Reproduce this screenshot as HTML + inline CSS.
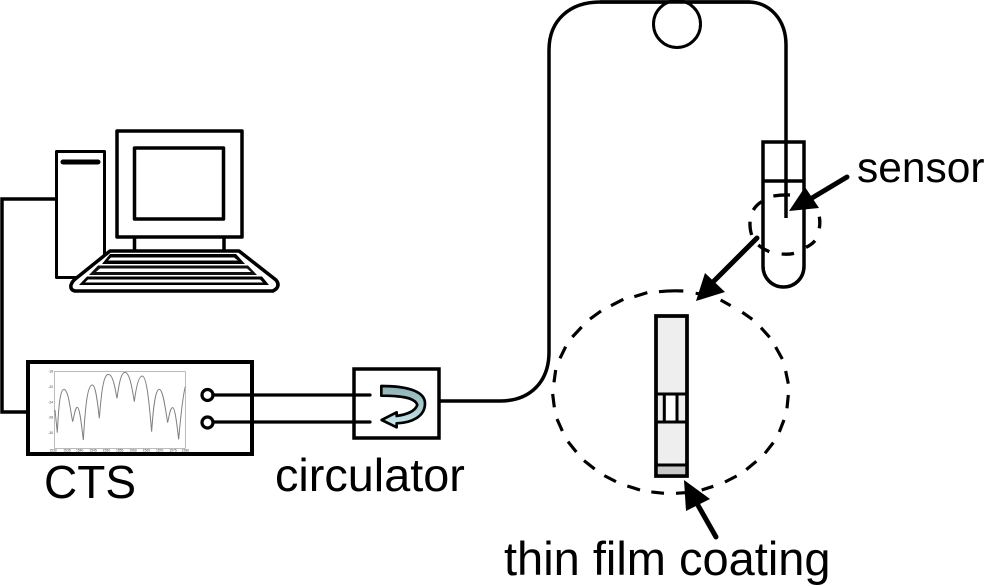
<!DOCTYPE html>
<html>
<head>
<meta charset="utf-8">
<style>
html,body{margin:0;padding:0;background:#fff;width:1000px;height:586px;overflow:hidden}
svg{display:block}
text{font-family:"Liberation Sans",sans-serif;fill:#000}
</style>
</head>
<body>
<svg width="1000" height="586" viewBox="0 0 1000 586" xmlns="http://www.w3.org/2000/svg">
<defs>
<linearGradient id="g" x1="0" y1="0" x2="0" y2="1">
<stop offset="0" stop-color="#8fb1b6"/>
<stop offset="0.55" stop-color="#a9cdd2"/>
<stop offset="1" stop-color="#d2eef3"/>
</linearGradient>
</defs>

<!-- connection PC to CTS -->
<path d="M56 199H2V412H27" fill="none" stroke="#000" stroke-width="3.500"/>

<!-- tower -->
<rect x="56.500" y="151.500" width="48" height="126" fill="#fff" stroke="#000" stroke-width="3" stroke-linejoin="round"/>
<line x1="63" y1="162" x2="98" y2="162" stroke="#000" stroke-width="5" stroke-linecap="round"/>

<!-- monitor -->
<rect x="117" y="131" width="125" height="106" fill="#fff" stroke="#000" stroke-width="3.500" stroke-linejoin="round"/>
<rect x="134.500" y="148" width="89" height="71" fill="#fff" stroke="#000" stroke-width="3.500" stroke-linejoin="round"/>
<path d="M134.500 237V251M224 237V251" stroke="#000" stroke-width="3.500"/>

<!-- keyboard -->
<path d="M110 251H239L276 280Q280 285 276 289L273 291H75Q70 290 71 285Q72 282 74 280Z" fill="#fff" stroke="#000" stroke-width="3.500" stroke-linejoin="round"/>
<path d="M110 254H236L245 264H102Z" fill="#000"/>
<path d="M111 257.500H234L238 260.500H108Z" fill="#fff"/>
<path d="M98 265.500H248L257 275H89Z" fill="#111"/>
<path d="M100 268.500H247L251 272H96Z" fill="#fff"/>
<path d="M87 276.500H262L269 285H79Z" fill="#000"/>
<path d="M88 279.500H260L263 282.500H85Z" fill="#fff"/>

<!-- CTS box -->
<rect x="28" y="362" width="224" height="92" fill="#fff" stroke="#000" stroke-width="4"/>
<g transform="translate(0,350) scale(0.3333)">
<rect x="163" y="65" width="393" height="230" fill="#fff" stroke="#999" stroke-width="2"/>
<path d="M165 180L172 248C176 170 180 118 192 118C206 118 212 190 218 215C224 190 226 172 232 172C240 172 246 240 250 270C256 170 262 105 277 105C288 105 294 170 298 205C304 130 310 73 325 73C340 73 346 120 351 145C356 110 362 67 375 67C390 67 398 125 403 155C408 115 415 78 427 78C442 78 450 190 455 245C460 170 466 118 478 118C490 118 498 190 503 218C508 195 511 173 518 173C526 173 532 235 536 268C542 200 548 140 556 110" fill="none" stroke="#808080" stroke-width="3"/>
<g font-size="10">
<text x="145" y="68" style="fill:#444">-18</text>
<text x="145" y="114" style="fill:#444">-20</text>
<text x="145" y="160" style="fill:#444">-24</text>
<text x="145" y="206" style="fill:#444">-28</text>
<text x="145" y="252" style="fill:#444">-30</text>
<text x="148" y="304" style="fill:#444">1530</text>
<text x="190" y="304" style="fill:#444">1535</text>
<text x="228" y="304" style="fill:#444">1540</text>
<text x="268" y="304" style="fill:#444">1545</text>
<text x="308" y="304" style="fill:#444">1550</text>
<text x="348" y="304" style="fill:#444">1555</text>
<text x="388" y="304" style="fill:#444">1560</text>
<text x="428" y="304" style="fill:#444">1565</text>
<text x="468" y="304" style="fill:#444">1570</text>
<text x="508" y="304" style="fill:#444">1575</text>
<text x="545" y="304" style="fill:#444">1580</text>
</g>
</g>
<circle cx="207.500" cy="395" r="5.500" fill="#fff" stroke="#000" stroke-width="3.200"/>
<circle cx="207.500" cy="422.500" r="5.500" fill="#fff" stroke="#000" stroke-width="3.200"/>
<path d="M213 395H370M213 422H370" stroke="#000" stroke-width="3.200" stroke-linecap="round"/>

<!-- circulator -->
<rect x="354" y="369" width="85" height="69" fill="none" stroke="#000" stroke-width="3.500"/>
<g transform="translate(340,355) scale(0.3333)">
<path d="M124 93L124 122C170 122 225 125 232 150C225 170 200 178 170 183L170 172L125 195L170 217L170 205C215 203 255 185 255 145C255 105 190 93 124 93Z" fill="url(#g)" stroke="#000" stroke-width="8" stroke-linejoin="round"/>
</g>

<!-- fibre -->
<path d="M438 401H500C530 401 549 382 549 352V50C549 20 570 2 600 2H748C770 2 786 20 786 45V218" fill="none" stroke="#000" stroke-width="3.500"/>
<circle cx="677" cy="24" r="23.500" fill="#fff" stroke="#000" stroke-width="3"/>
<line x1="600" y1="2" x2="750" y2="2" stroke="#000" stroke-width="3.500"/>

<!-- sensor tube -->
<path d="M763 142H804V266C804 278 795 287 783.500 287C772 287 763 278 763 266Z" fill="none" stroke="#000" stroke-width="3.500"/>
<line x1="763" y1="181" x2="804" y2="181" stroke="#000" stroke-width="3.500"/>

<!-- small dashed ellipse -->
<g transform="translate(680,130) scale(0.3333)" fill="none" stroke="#000" stroke-width="10">
<path d="M280 198Q305 194 330 195"/>
<path d="M245 215Q228 226 220 240"/>
<path d="M210 275Q209 296 215 315"/>
<path d="M235 345Q250 358 268 365"/>
<path d="M305 372Q325 374 342 370"/>
<path d="M378 352Q395 344 405 332"/>
<path d="M418 295Q421 277 418 260"/>
</g>

<!-- arrows -->
<line x1="847" y1="177" x2="812" y2="198" stroke="#000" stroke-width="5" stroke-linecap="round"/>
<path d="M805 187L789 211L819 208Z" fill="#000"/>
<line x1="757" y1="238" x2="712" y2="283" stroke="#000" stroke-width="5" stroke-linecap="round"/>
<path d="M705 273L725 292L696 301Z" fill="#000"/>

<!-- big dashed ellipse -->
<g transform="translate(545,285) scale(0.3333)" fill="none" stroke="#000" stroke-width="9.500">
<path d="M342 20Q378 16 415 18"/>
<path d="M452 25L470 27"/>
<path d="M527 45L557 62"/>
<path d="M592 82L622 103"/>
<path d="M648 128L674 157"/>
<path d="M692 186L712 222"/>
<path d="M722 258L730 296"/>
<path d="M730 330L726 370"/>
<path d="M717 405L703 441"/>
<path d="M685 473L660 505"/>
<path d="M634 529L604 554"/>
<path d="M575 573L540 591"/>
<path d="M505 604L470 615"/>
<path d="M420 623L393 625"/>
<path d="M357 625L319 621"/>
<path d="M285 615L247 603"/>
<path d="M213 590L178 572"/>
<path d="M149 552L117 527"/>
<path d="M94 501L69 470"/>
<path d="M52 438L36 402"/>
<path d="M28 367L23 327"/>
<path d="M27 292L32 255"/>
<path d="M45 220L62 185"/>
<path d="M82 156L110 126"/>
<path d="M135 102L168 78"/>
<path d="M198 62L235 43"/>
<path d="M268 35L307 23"/>
</g>

<!-- film -->
<rect x="656" y="316" width="31" height="160" fill="#eeeeee" stroke="#000" stroke-width="3.500"/>
<rect x="666" y="396" width="10" height="26" fill="#fff"/>
<rect x="656" y="465" width="31" height="11" fill="#c8c8c8"/>
<path d="M656 394H687M656 422H687M656 465H687M664.300 394V422M677 394V422" stroke="#000" stroke-width="3"/>
<rect x="656" y="316" width="31" height="160" fill="none" stroke="#000" stroke-width="3.500"/>

<!-- bottom arrow -->
<line x1="716" y1="537" x2="695" y2="500" stroke="#000" stroke-width="5" stroke-linecap="round"/>
<path d="M684 480L710 499L686 511Z" fill="#000"/>

<!-- labels -->
<text x="44" y="498" font-size="46">CTS</text>
<text x="275" y="491" font-size="46.800">circulator</text>
<text x="857" y="182" font-size="42.500">sensor</text>
<text x="504" y="575" font-size="47">thin film coating</text>
</svg>
</body>
</html>
